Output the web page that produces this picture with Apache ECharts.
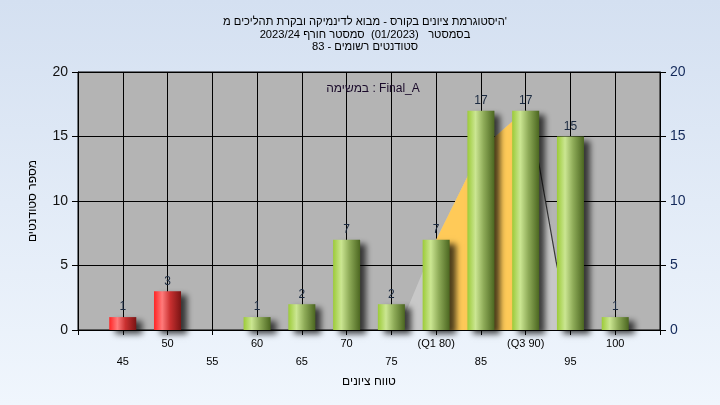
<!DOCTYPE html>
<html><head><meta charset="utf-8">
<script src="https://cdn.jsdelivr.net/npm/echarts@6/dist/echarts.min.js"></script>
<style>html,body{margin:0;padding:0;}#c{width:720px;height:405px;}</style>
</head><body><div id="c"></div>
<script>
// ---- data ----
const titleLines = ["היסטוגרמת ציונים בקורס - מבוא לדינמיקה ובקרת תהליכים מ'", "בסמסטר   (01/2023)  סמסטר חורף 2023/24", "סטודנטים רשומים - 83"];
const taskLabel = "במשימה : Final_A";
const yAxisTitle = "מספר סטודנטים";
const xAxisTitle = "טווח ציונים";
const categories = [45, 50, 55, 60, 65, 70, 75, 80, 85, 90, 95, 100];
const counts = [1, 3, 0, 1, 2, 7, 2, 7, 17, 17, 15, 1];
const passGrade = 55;
const specialTickLabels = {80: "(Q1 80)", 90: "(Q3 90)"};
const q1 = 80, q3 = 90;
const curveX = [75.8, 80, 83.5, 86.6, 88.4, 90, 91.5, 93.4, 95];
const curveY = [0, 7, 11.9, 15, 16.1, 17, 12.8, 5.3, 0];

const FONT = "'Liberation Sans',Arial,sans-serif";
const grad = (stops) => new echarts.graphic.LinearGradient(0, 0, 1, 0, stops.map((c) => ({offset: c[0], color: c[1]})));
const redGrad = grad([[0, '#ff2424'], [0.3, '#ff7b7b'], [0.6, '#c93030'], [1, '#7a1414']]);
const greenGrad = grad([[0, '#9ccb38'], [0.3, '#cbe692'], [0.6, '#8eab58'], [1, '#4b6620']]);

const barData = [];
categories.forEach((c, i) => {
  if (counts[i] > 0) barData.push({value: [c, counts[i]], itemStyle: {color: c < passGrade ? redGrad : greenGrad}});
});
const curve = curveX.map((x, i) => [x, curveY[i]]);
const iqr = curve.filter(p => p[0] >= q1 && p[0] <= q3);
const rightEdge = curve.filter(p => p[0] >= q3);

const chart = echarts.init(document.getElementById('c'));
chart.setOption({
  animation: false,
  backgroundColor: new echarts.graphic.LinearGradient(0, 0, 0, 1, [{offset: 0, color: '#d4e0f1'}, {offset: 1, color: '#f0f6fd'}]),
  title: [
    {text: titleLines.join('\n'), left: 360, textAlign: 'center', top: 11,
     textStyle: {fontFamily: FONT, fontSize: 11.2, fontWeight: 'normal', color: '#000', lineHeight: 12.5}},
    {text: taskLabel, left: 368, textAlign: 'center', top: 78,
     textStyle: {fontFamily: FONT, fontSize: 12, fontWeight: 'normal', color: '#1a0a2a'}}
  ],
  grid: {left: 78, right: 60, top: 72, bottom: 75, show: true, backgroundColor: '#b4b4b4', borderColor: '#000', borderWidth: 1},
  xAxis: {
    type: 'value', min: 40, max: 105, interval: 5,
    name: xAxisTitle, nameLocation: 'middle', nameGap: 45,
    nameTextStyle: {fontFamily: FONT, fontSize: 12, color: '#000'},
    axisLine: {lineStyle: {color: '#000'}},
    axisTick: {show: true, length: 5, lineStyle: {color: '#000'}},
    splitLine: {show: true, lineStyle: {color: '#000', width: 1}},
    axisLabel: {
      margin: 5, fontFamily: FONT, fontSize: 11, color: '#000', lineHeight: 18,
      formatter: (v) => {
        if (v < categories[0] || v > categories[categories.length - 1]) return '';
        const t = specialTickLabels[v] || String(v);
        return ((v / 5) % 2 === 1 ? '\n' : '') + t;
      }
    }
  },
  yAxis: [
    {type: 'value', min: 0, max: 20, interval: 5, position: 'left',
     name: yAxisTitle, nameLocation: 'middle', nameGap: 39, nameRotate: 90,
     nameTextStyle: {fontFamily: FONT, fontSize: 12, color: '#000'},
     axisLine: {show: true, lineStyle: {color: '#000'}},
     axisTick: {show: true, length: 6, lineStyle: {color: '#000'}},
     splitLine: {show: true, lineStyle: {color: '#000', width: 1}},
     axisLabel: {margin: 10, fontFamily: FONT, fontSize: 14, color: '#111'}},
    {type: 'value', min: 0, max: 20, interval: 5, position: 'right',
     axisLine: {show: true, lineStyle: {color: '#000'}},
     axisTick: {show: true, length: 6, lineStyle: {color: '#000'}},
     splitLine: {show: false},
     axisLabel: {margin: 10, fontFamily: FONT, fontSize: 14, color: '#13295a'}}
  ],
  series: [
    {type: 'line', z: 1, data: curve, symbol: 'none', silent: true,
     lineStyle: {width: 0}, areaStyle: {color: '#c8c8c8', opacity: 1}},
    {type: 'line', z: 1, data: iqr, symbol: 'none', silent: true,
     lineStyle: {width: 0}, areaStyle: {color: '#ffca58', opacity: 1}},
    {type: 'line', z: 1, data: rightEdge, symbol: 'none', silent: true,
     lineStyle: {width: 1.2, color: '#383838'}},
    {type: 'bar', z: 5, data: barData, barWidth: 27, clip: false,
     itemStyle: {shadowColor: 'rgba(0,0,0,0.7)', shadowBlur: 6, shadowOffsetX: 6, shadowOffsetY: 4},
     label: {show: true, position: 'top', distance: 4, fontFamily: FONT, fontSize: 12, color: '#1b2a40'}}
  ]
});
</script></body></html>
